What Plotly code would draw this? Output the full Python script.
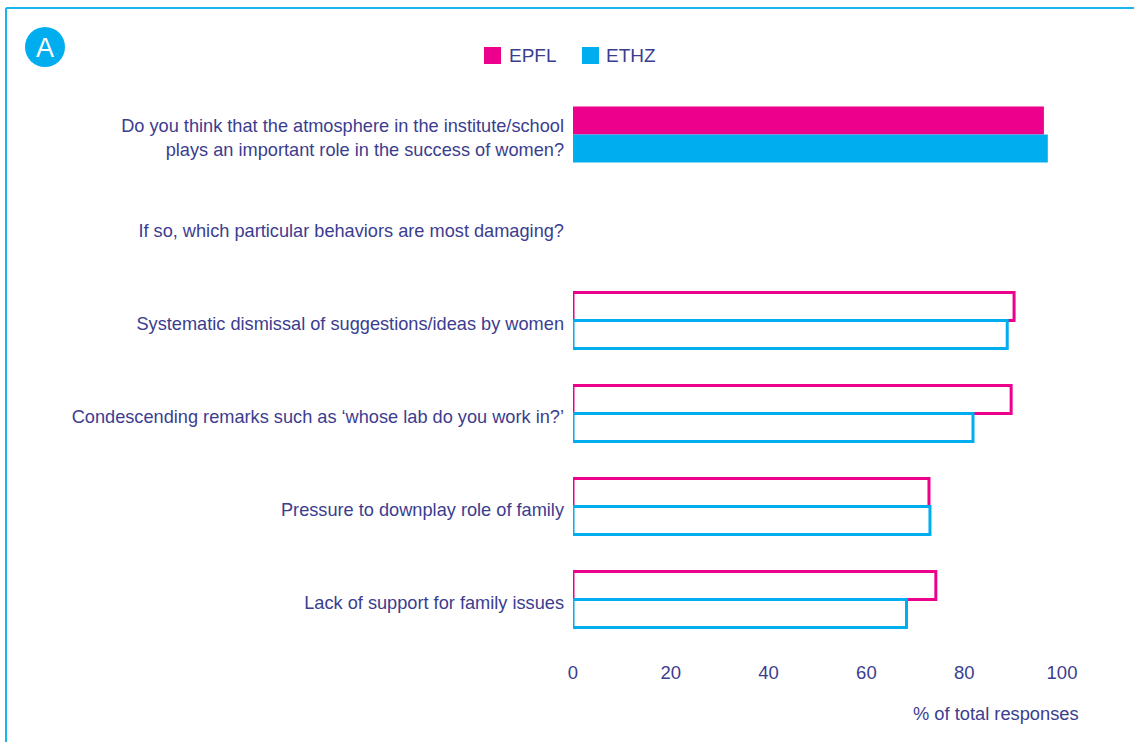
import plotly.graph_objects as go

categories = [
    "Do you think that the atmosphere in the institute/school<br>plays an important role in the success of women?",
    "If so, which particular behaviors are most damaging?",
    "Systematic dismissal of suggestions/ideas by women",
    "Condescending remarks such as \u2018whose lab do you work in?\u2019",
    "Pressure to downplay role of family",
    "Lack of support for family issues",
]
epfl = [96.3, None, 90.2, 89.6, 72.8, 74.2]
ethz = [97.1, None, 88.8, 81.8, 73.0, 68.2]
filled = [True, False, False, False, False, False]
x_ticks = [0, 20, 40, 60, 80, 100]

W, H = 1134, 742
ML, MR, MT, MB = 573, 72, 88, 96
PW, PH = W - ML - MR, H - MT - MB

MAGENTA = "#ec008c"
CYAN = "#00aeef"
TEXT = "#3b3d8f"
FONT = "Liberation Sans, Arial, sans-serif"


def px(x):
    return (x - ML) / PW


def py(y):
    return (H - MB - y) / PH


fig = go.Figure()
for name, vals, col in [("EPFL", epfl, MAGENTA), ("ETHZ", ethz, CYAN)]:
    fig.add_trace(go.Bar(
        name=name, y=categories, x=vals, orientation="h",
        marker=dict(
            color=[col if f else "white" for f in filled],
            line=dict(color=col, width=[0 if f else 3 for f in filled]),
        ),
        showlegend=False,
    ))

shapes = [
    dict(type="line", xref="paper", yref="paper", x0=px(6), x1=px(W + 5), y0=py(8), y1=py(8),
         line=dict(color="#1ab4ee", width=2)),
    dict(type="line", xref="paper", yref="paper", x0=px(6), x1=px(6), y0=py(8), y1=py(H + 5),
         line=dict(color="#1ab4ee", width=2)),
    dict(type="circle", xref="paper", yref="paper", x0=px(25), x1=px(65), y0=py(27), y1=py(67),
         fillcolor=CYAN, line=dict(width=0)),
    dict(type="rect", xref="paper", yref="paper", x0=px(484), x1=px(501), y0=py(47), y1=py(64),
         fillcolor=MAGENTA, line=dict(width=0)),
    dict(type="rect", xref="paper", yref="paper", x0=px(582), x1=px(599), y0=py(47), y1=py(64),
         fillcolor=CYAN, line=dict(width=0)),
]

annotations = [
    dict(text="A", xref="paper", yref="paper", x=px(45), y=py(48), showarrow=False,
         font=dict(color="white", size=27, family=FONT), xanchor="center", yanchor="middle"),
    dict(text="EPFL", xref="paper", yref="paper", x=px(507), y=py(56), showarrow=False,
         font=dict(color=TEXT, size=19, family=FONT), xanchor="left", yanchor="middle"),
    dict(text="ETHZ", xref="paper", yref="paper", x=px(604), y=py(56), showarrow=False,
         font=dict(color=TEXT, size=19, family=FONT), xanchor="left", yanchor="middle"),
    dict(text="% of total responses", xref="paper", yref="paper", x=px(1081), y=py(713),
         showarrow=False, font=dict(color=TEXT, size=18.3, family=FONT),
         xanchor="right", yanchor="middle"),
]

fig.update_layout(
    width=W, height=H,
    margin=dict(l=ML, r=MR, t=MT, b=MB, autoexpand=False),
    paper_bgcolor="white", plot_bgcolor="white",
    barmode="group", bargap=0.4, bargroupgap=0,
    font=dict(family=FONT, color=TEXT, size=18),
    shapes=shapes, annotations=annotations,
    xaxis=dict(range=[0, 100], tickvals=x_ticks, showgrid=False, zeroline=False,
               showline=False, ticks="", ticklabelstandoff=13,
               tickfont=dict(size=18.5, color=TEXT)),
    yaxis=dict(autorange="reversed", showgrid=False, zeroline=False, showline=False,
               ticks="", ticklabelstandoff=8, ticklabelshift=-3,
               tickfont=dict(size=18.2, color=TEXT)),
)

fig.write_html("out.html", config={"displayModeBar": False},
               post_script="document.body.style.margin='0';")
